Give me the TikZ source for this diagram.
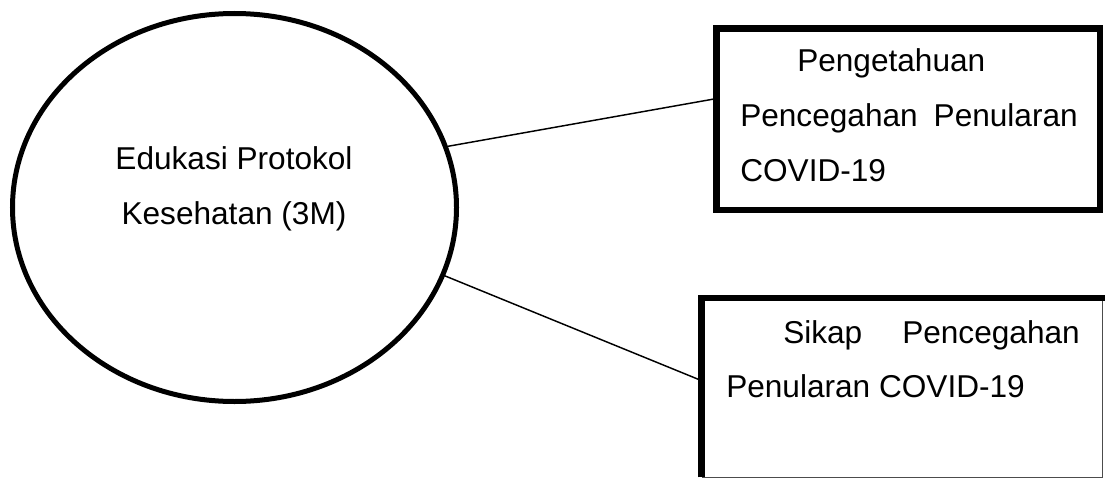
\documentclass[tikz,border=0pt]{standalone}
\usepackage{fontspec}
\setmainfont{Liberation Sans}
\usetikzlibrary{shapes.geometric}
\begin{document}
\begin{tikzpicture}[x=0.75pt,y=-0.75pt,
  txt/.style={inner sep=0pt,font=\fontsize{23.7}{28}\selectfont},
  conn/.style={line width=1.1pt},
  thickbox/.style={draw,rectangle,line width=4.9pt,inner sep=0pt}]
\useasboundingbox (0,0) rectangle (1105,478);
% ellipse
\node[ellipse,draw,line width=3.75pt,inner sep=0pt,minimum width=333pt,minimum height=291pt] (ell) at (234.5,207.5) {};
% ellipse text
\node[txt,anchor=base] (e1) at (234,169) {Edukasi Protokol};
\node[txt,anchor=base] (e2) at (234,224) {Kesehatan (3M)};
% box 1
\node[thickbox,minimum width=287.5pt,minimum height=136.3pt] (b1) at (908.3,119.2) {};
\node[txt,anchor=base west] (t1a) at (797,71) {Pengetahuan};
\node[txt,anchor=base west] (t1b) at (740,126.7) {Pencegahan};
\node[txt,anchor=base east] (t1c) at (1078,126.7) {Penularan};
\node[txt,anchor=base west] (t1d) at (740,181.7) {COVID-19};
% box 2
\node[inner sep=0pt,minimum width=300pt,minimum height=134pt] (b2) at (902,387.65) {};
\draw[line width=0.9pt,draw=black!70] (b2.north east) -- (b2.south east) -- (b2.south west);
\draw[line width=4.9pt] (b2.south west) -- (b2.north west) -- ([xshift=2.4pt]b2.north east);
\node[txt,anchor=base west] (t2a) at (783,343) {Sikap};
\node[txt,anchor=base east] (t2b) at (1080,343) {Pencegahan};
\node[txt,anchor=base west] (t2c) at (726,397) {Penularan COVID-19};
% connectors
\coordinate (c1) at (714,99);
\coordinate (c2) at (700,380);
\draw[conn] (ell.16.8) -- (c1);
\draw[conn] (ell.-18.8) -- (c2);
\end{tikzpicture}
\end{document}
